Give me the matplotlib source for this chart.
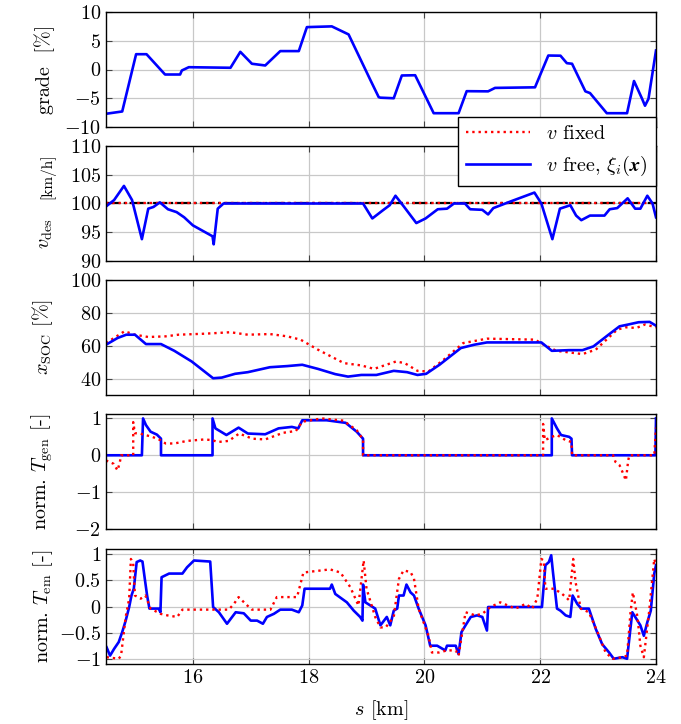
import matplotlib
matplotlib.use("Agg")
import matplotlib.pyplot as plt
from matplotlib.ticker import FuncFormatter

plt.rcParams.update({
    "font.family": "serif",
    "font.serif": ["cmr10", "DejaVu Serif"],
    "mathtext.fontset": "cm",
    "axes.formatter.use_mathtext": True,
    "font.size": 14.5,
})

# grade along the route
s_grade = [14.5, 14.78, 15.02, 15.2, 15.52, 15.78, 15.81, 15.93, 16.65, 16.82, 17.02, 17.25,
           17.51, 17.83, 17.97, 18.4, 18.69, 19.07, 19.21, 19.24, 19.47, 19.61, 19.84, 20.16,
           20.59, 20.73, 21.1, 21.22, 21.91, 22.14, 22.35, 22.46, 22.55, 22.78, 22.86, 23.15,
           23.5, 23.62, 23.76, 23.81, 23.87, 24.0]
grade = [-7.7, -7.3, 2.66, 2.66, -0.87, -0.87, -0.17, 0.4, 0.3, 3.07, 1.0, 0.7,
         3.2, 3.2, 7.37, 7.5, 6.1, -1.9, -4.8, -4.9, -5.0, -1.04, -1.0, -7.6,
         -7.6, -3.77, -3.8, -3.2, -3.1, 2.43, 2.4, 1.1, 1.0, -3.8, -4.1, -7.6,
         -7.6, -2.0, -5.1, -6.3, -5.1, 3.3]

# desired velocity
s_vfixed = [14.5, 24.0]
v_fixed = [100, 100]
s_vfree = [14.49, 14.64, 14.81, 14.95, 15.12, 15.23, 15.32, 15.43, 15.57, 15.72, 15.85, 16.0,
           16.34, 16.36, 16.43, 16.53, 18.94, 19.1, 19.28, 19.4, 19.5, 19.65, 19.86, 20.02,
           20.23, 20.39, 20.51, 20.7, 20.79, 21.0, 21.1, 21.19, 21.5, 21.9, 22.02, 22.21,
           22.34, 22.52, 22.62, 22.71, 22.86, 23.11, 23.2, 23.33, 23.51, 23.64, 23.73, 23.85,
           23.94, 24.0]
v_free = [99.4, 100.6, 103.06, 100.6, 93.8, 99.1, 99.4, 100.2, 99.0, 98.5, 97.6, 96.2,
          94.3, 92.9, 99.1, 100, 100, 97.4, 98.8, 99.7, 101.35, 99.4, 96.6, 97.4,
          99.0, 99.1, 100, 100, 99.0, 98.9, 98.1, 99.2, 100.4, 101.9, 100, 93.8,
          99.1, 99.7, 97.9, 97.1, 97.9, 97.9, 99.0, 99.2, 100.9, 99.1, 99.1, 101.35,
          100, 97.6]

# state of charge
s_soc_fixed = [14.5, 14.82, 15.0, 15.23, 15.53, 15.75, 16.2, 16.65, 16.95, 17.33, 17.63, 17.86,
               18.16, 18.61, 18.91, 19.13, 19.51, 19.66, 19.88, 20.07, 20.33, 20.67, 21.08,
               21.91, 22.06, 22.28, 22.73, 22.96, 23.33, 23.48, 23.66, 23.81, 24.0]
soc_fixed = [61.6, 68.8, 66.7, 65.3, 65.7, 66.7, 67.3, 68.2, 66.7, 67.1, 65.7, 63.7,
             57.6, 49.4, 48.0, 45.9, 50.4, 49.4, 44.7, 44.3, 51.4, 61.6, 64.3,
             63.7, 60.6, 56.9, 54.9, 57.6, 69.8, 71.2, 70.8, 72.9, 71.2]
s_soc_free = [14.5, 14.7, 14.85, 15.0, 15.19, 15.45, 15.68, 15.98, 16.35, 16.5, 16.73, 16.95,
              17.33, 17.63, 17.89, 18.16, 18.46, 18.68, 18.91, 19.17, 19.47, 19.7, 19.88,
              20.03, 20.26, 20.63, 20.86, 21.08, 22.02, 22.2, 22.5, 22.73, 22.92, 23.18,
              23.37, 23.52, 23.7, 23.89, 24.0]
soc_free = [60.6, 64.7, 66.7, 66.7, 61.0, 61.0, 56.9, 50.4, 40.2, 40.6, 42.9, 43.9,
            46.9, 47.6, 48.4, 45.9, 42.7, 41.2, 42.2, 42.2, 44.7, 43.9, 42.2,
            42.9, 48.4, 58.6, 60.6, 62.0, 62.0, 56.9, 57.3, 57.3, 59.6, 66.7,
            71.8, 72.9, 74.3, 74.5, 72.2]

# normalised generator torque
s_gen_fixed = [14.5, 14.63, 14.7, 14.74, 14.76, 14.97, 14.97, 15.0, 15.08, 15.3, 15.44, 15.53,
               15.68, 15.9, 16.2, 16.34, 16.43, 16.62, 16.8, 17.03, 17.25, 17.56, 17.78, 17.89,
               18.23, 18.6, 18.83, 18.94, 18.94, 22.05, 22.05, 22.08, 22.2, 22.29, 22.44, 22.54,
               22.55, 23.26, 23.3, 23.37, 23.42, 23.48, 23.52, 23.54, 23.97, 24.0]
gen_fixed = [-0.14, -0.23, -0.41, -0.18, 0.0, 0.0, 0.9, 0.6, 0.59, 0.5, 0.41, 0.32,
             0.32, 0.39, 0.43, 0.41, 0.36, 0.39, 0.59, 0.45, 0.43, 0.61, 0.66, 0.91,
             1.0, 0.94, 0.68, 0.43, 0.0, 0.0, 0.85, 0.41, 0.5, 0.55, 0.41, 0.36,
             0.0, 0.0, -0.18, -0.27, -0.45, -0.68, -0.14, 0.0, 0.0, 0.75]
s_gen_free = [14.5, 15.12, 15.14, 15.19, 15.27, 15.38, 15.45, 15.45, 16.34, 16.34, 16.39, 16.58,
              16.79, 16.95, 17.25, 17.48, 17.71, 17.82, 17.89, 18.31, 18.64, 18.83, 18.94,
              18.94, 22.2, 22.2, 22.29, 22.36, 22.5, 22.54, 22.55, 23.99, 24.0]
gen_free = [0.0, 0.0, 1.0, 0.82, 0.64, 0.56, 0.45, 0.0, 0.0, 1.0, 0.73, 0.55,
            0.75, 0.59, 0.57, 0.73, 0.77, 0.73, 0.95, 0.95, 0.88, 0.64, 0.45,
            0.0, 0.0, 1.0, 0.73, 0.55, 0.5, 0.45, 0.0, 0.0, 1.0]

# normalised electric motor torque
s_em_fixed = [14.51, 14.72, 14.76, 14.84, 14.9, 14.93, 14.97, 15.0, 15.1, 15.18, 15.27, 15.44,
              15.56, 15.73, 15.82, 16.62, 16.71, 16.79, 16.94, 17.02, 17.34, 17.45, 17.8,
              17.91, 18.37, 18.55, 18.72, 18.86, 18.95, 19.0, 19.15, 19.24, 19.33, 19.47,
              19.56, 19.64, 19.76, 19.82, 19.9, 20.07, 20.13, 20.25, 20.39, 20.54, 20.59,
              20.71, 20.88, 21.0, 21.14, 21.31, 21.57, 21.75, 21.86, 21.95, 22.02, 22.06,
              22.09, 22.24, 22.38, 22.5, 22.57, 22.61, 22.7, 22.84, 22.99, 23.13, 23.25,
              23.42, 23.5, 23.56, 23.6, 23.68, 23.73, 23.79, 23.88, 23.97, 24.0]
em_fixed = [-0.97, -1.0, -0.94, -0.2, 0.15, 0.91, 0.82, 0.21, 0.15, 0.21, -0.04, -0.14,
            -0.17, -0.2, -0.06, -0.06, 0.05, 0.18, 0.02, -0.06, -0.06, 0.18, 0.18,
            0.65, 0.71, 0.65, 0.37, 0.02, 0.88, 0.34, -0.2, -0.4, -0.4, -0.2,
            0.53, 0.69, 0.66, 0.53, -0.04, -0.56, -0.88, -0.88, -0.84, -0.84, -0.94,
            -0.11, -0.17, -0.14, -0.01, 0.08, -0.04, 0.05, -0.04, 0.15, 0.91, 0.88,
            0.34, 0.34, 0.24, 0.12, 0.91, 0.47, -0.04, -0.11, -0.49, -0.88, -1.0,
            -0.97, -0.94, -0.11, 0.27, -0.2, -0.75, -0.97, -0.11, 0.91, 0.79]
s_em_free = [14.51, 14.57, 14.64, 14.72, 14.78, 14.84, 14.9, 14.94, 14.98, 15.03, 15.09, 15.13,
             15.17, 15.21, 15.25, 15.41, 15.44, 15.46, 15.59, 15.82, 15.9, 16.02, 16.3, 16.35,
             16.45, 16.59, 16.74, 16.88, 17.0, 17.11, 17.21, 17.28, 17.4, 17.51, 17.71, 17.83,
             17.89, 17.93, 18.37, 18.4, 18.46, 18.66, 18.78, 18.89, 18.93, 18.94, 18.98, 19.15,
             19.24, 19.35, 19.41, 19.47, 19.53, 19.56, 19.64, 19.69, 19.76, 19.82, 19.9, 20.02,
             20.1, 20.22, 20.36, 20.39, 20.54, 20.59, 20.64, 20.71, 20.8, 20.91, 21.0, 21.08,
             21.1, 22.03, 22.09, 22.15, 22.19, 22.22, 22.29, 22.35, 22.44, 22.52, 22.56, 22.64,
             22.71, 22.84, 22.96, 23.07, 23.19, 23.27, 23.42, 23.5, 23.59, 23.68, 23.73, 23.79,
             23.85, 23.91, 23.97, 24.0]
em_free = [-0.78, -0.94, -0.81, -0.68, -0.49, -0.27, -0.01, 0.21, 0.34, 0.85, 0.88, 0.86,
           0.53, 0.21, -0.04, -0.04, -0.11, 0.56, 0.63, 0.63, 0.75, 0.88, 0.86, -0.01,
           -0.11, -0.33, -0.11, -0.13, -0.27, -0.27, -0.33, -0.2, -0.14, -0.06, -0.06, -0.11,
           0.02, 0.34, 0.34, 0.42, 0.24, 0.08, -0.08, -0.2, -0.27, 0.42, 0.08, -0.04,
           -0.36, -0.2, -0.36, -0.08, -0.04, 0.21, 0.21, 0.42, 0.27, 0.21, -0.04, -0.36,
           -0.75, -0.75, -0.84, -0.75, -0.75, -0.91, -0.49, -0.36, -0.2, -0.17, -0.2, -0.46,
           -0.01, -0.01, 0.79, 0.85, 0.98, 0.66, -0.04, -0.08, -0.17, -0.2, 0.21, 0.05,
           -0.04, -0.04, -0.43, -0.72, -0.88, -1.0, -0.97, -1.0, -0.11, -0.27, -0.36, -0.56,
           -0.3, -0.08, 0.63, 0.79]

fig = plt.figure(figsize=(6.81, 7.24), dpi=100)
left, width = 106 / 681, 550 / 681
tops = [12, 146, 280, 414, 549]
height = 115
axes = []
for i, t in enumerate(tops):
    ax = fig.add_axes([left, 1 - (t + height) / 724, width, height / 724],
                      sharex=axes[0] if axes else None)
    axes.append(ax)

blue = "#0000ff"
red = "#ff0000"
lw_b = 1.9
lw_r = 1.7

ax1, ax2, ax3, ax4, ax5 = axes
ax1.plot(s_grade, grade, color=blue, lw=lw_b)
ax1.set_ylim(-10, 10)
ax1.set_yticks([-10, -5, 0, 5, 10])
ax1.set_ylabel("grade  [%]")

ax2.plot(s_vfixed, v_fixed, color="black", lw=1.6, ls="-.")
l_fixed, = ax2.plot(s_vfixed, v_fixed, color=red, lw=lw_r, ls=":")
l_free, = ax2.plot(s_vfree, v_free, color=blue, lw=lw_b)
ax2.set_ylim(90, 110)
ax2.set_yticks([90, 95, 100, 105, 110])
# label in two pieces: symbol and a smaller unit
ax2.text(-0.093, 0.24, r"$v_{\rm des}$", rotation=90, ha="right", va="center",
         transform=ax2.transAxes)
ax2.text(-0.093, 0.74, "[km/h]", rotation=90, ha="right", va="center",
         fontsize=11, transform=ax2.transAxes)

ax3.plot(s_soc_fixed, soc_fixed, color=red, lw=lw_r, ls=":")
ax3.plot(s_soc_free, soc_free, color=blue, lw=lw_b)
ax3.set_ylim(30, 100)
ax3.set_yticks([40, 60, 80, 100])
ax3.set_ylabel(r"$x_{\rm SOC}$ [%]")

ax4.plot(s_gen_free, gen_free, color=blue, lw=lw_b)
ax4.plot(s_gen_fixed, gen_fixed, color=red, lw=lw_r, ls=":")
ax4.set_ylim(-2, 1.12)
ax4.set_yticks([-2, -1, 0, 1])
ax4.set_ylabel(r"norm. $T_{\rm gen}$ [-]")

ax5.plot(s_em_free, em_free, color=blue, lw=lw_b)
ax5.plot(s_em_fixed, em_fixed, color=red, lw=lw_r, ls=":")
ax5.set_ylim(-1.1, 1.1)
ax5.set_yticks([-1, -0.5, 0, 0.5, 1])
ax5.set_ylabel(r"norm. $T_{\rm em}$ [-]")
ax5.set_xlabel(r"$s$ [km]", labelpad=8)

fmt = FuncFormatter(lambda v, _: f"${v:g}$")
for ax in axes:
    ax.set_xlim(14.5, 24)
    ax.set_xticks([16, 18, 20, 22, 24])
    ax.grid(True, color="#c8c8c8", lw=0.9)
    ax.set_axisbelow(True)
    ax.tick_params(direction="in", top=True, right=True, length=4, color="#444444")
    ax.yaxis.set_major_formatter(fmt)
    ax.xaxis.set_major_formatter(fmt)
    ax.yaxis.set_label_coords(-0.093, 0.5)
    for sp in ax.spines.values():
        sp.set_linewidth(1.0)
    if ax is not ax5:
        ax.tick_params(labelbottom=False)

fig.legend([l_fixed, l_free], [r"$v$ fixed", r"$v$ free, $\xi_i(\boldsymbol{x})$"],
           loc="upper right", bbox_to_anchor=(0.963, 0.838), fancybox=False,
           edgecolor="black", framealpha=1, handlelength=3.2, borderaxespad=0)

fig.savefig("out.png", dpi=100)
